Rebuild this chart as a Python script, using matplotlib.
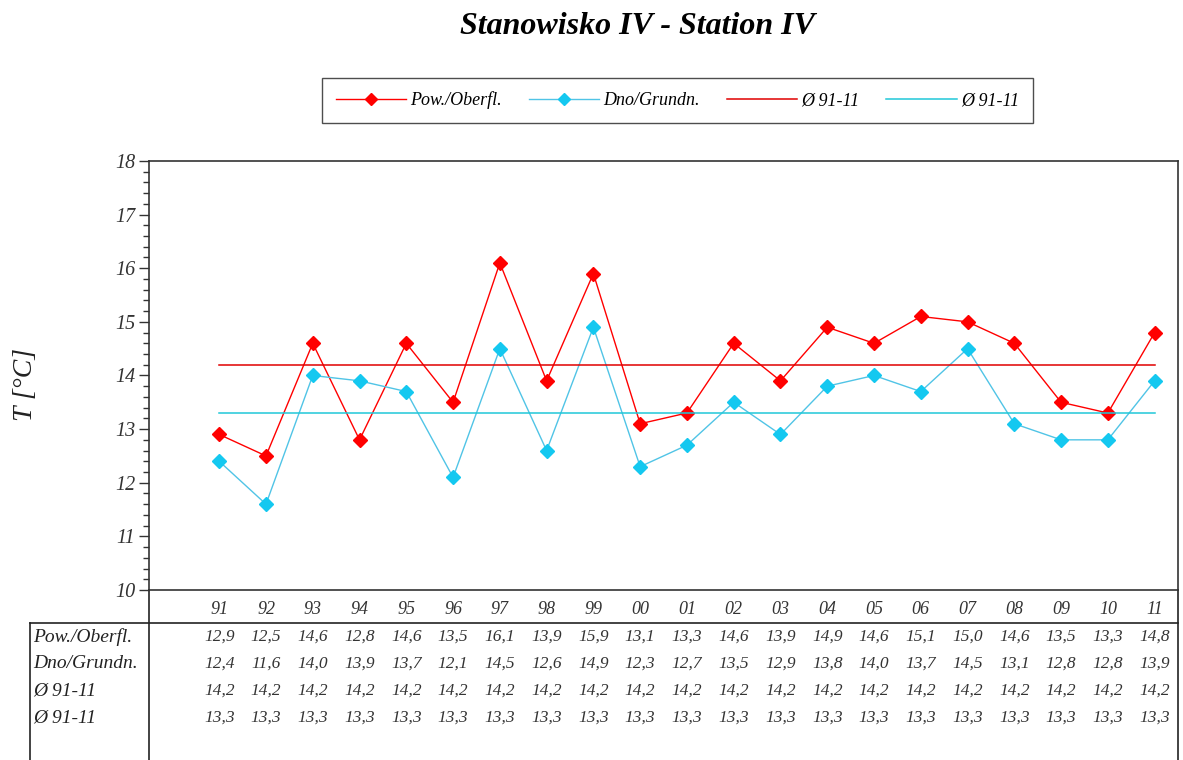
import numpy as np
import matplotlib
matplotlib.use('Agg')
import matplotlib.pyplot as plt
from matplotlib.ticker import MultipleLocator
from matplotlib.lines import Line2D

years = ['91', '92', '93', '94', '95', '96', '97', '98', '99', '00', '01',
         '02', '03', '04', '05', '06', '07', '08', '09', '10', '11']
surface = [12.9, 12.5, 14.6, 12.8, 14.6, 13.5, 16.1, 13.9, 15.9, 13.1, 13.3,
           14.6, 13.9, 14.9, 14.6, 15.1, 15.0, 14.6, 13.5, 13.3, 14.8]
bottom = [12.4, 11.6, 14.0, 13.9, 13.7, 12.1, 14.5, 12.6, 14.9, 12.3, 12.7,
          13.5, 12.9, 13.8, 14.0, 13.7, 14.5, 13.1, 12.8, 12.8, 13.9]
mean_surface = [14.2] * 21
mean_bottom = [13.3] * 21
row_names = ['Pow./Oberfl.', 'Dno/Grundn.', 'Ø 91-11', 'Ø 91-11']

plt.rcParams['font.family'] = ['Liberation Serif', 'DejaVu Serif']
plt.rcParams['font.style'] = 'italic'

RED = '#FF0000'
CYAN = '#14C8F0'

fig = plt.figure(figsize=(11.83, 7.6), dpi=100)
ax = fig.add_axes([0.126, 0.2237, 0.8698, 0.5645])

x = np.arange(len(years))
ax.plot(x, surface, color=RED, lw=1, marker='D', ms=7, mec=RED, mfc=RED)
ax.plot(x, bottom, color='#50C4E6', lw=1, marker='D', ms=7, mec=CYAN, mfc=CYAN)
ax.plot(x, mean_surface, color='#E00000', lw=1.1)
ax.plot(x, mean_bottom, color='#20C8D8', lw=1.1)

ax.set_xlim(-1.5, 20.5)
ax.set_ylim(10, 18)
ax.yaxis.set_major_locator(MultipleLocator(1))
ax.yaxis.set_minor_locator(MultipleLocator(0.2))
ax.tick_params(axis='y', which='major', length=7, width=1, labelsize=14.5,
               pad=3, colors='#333333', labelcolor='#333333')
ax.tick_params(axis='y', which='minor', length=4, width=1, colors='#333333')
ax.set_xticks(x)
ax.set_xticklabels(years, fontsize=13, color='#333333')
ax.tick_params(axis='x', length=0, pad=8)
for s in ax.spines.values():
    s.set_color('#333333')
    s.set_linewidth(1.2)

ax.set_ylabel('T [°C]', fontsize=20, color='#222222')
ax.yaxis.set_label_coords(-0.108, 0.48)

# data table below the plot
tr = ax.get_xaxis_transform()
kw = dict(transform=ax.transAxes, clip_on=False, color='#222222', lw=1.2)
ax.plot([0, 0], [0, -0.4], **kw)
ax.plot([1, 1], [0, -0.4], **kw)
ax.plot([-0.1156, 1], [-0.0767, -0.0767], **kw)
ax.plot([-0.1156, -0.1156], [-0.0767, -0.4], **kw)

rows = [surface, bottom, mean_surface, mean_bottom]
row_y = [-0.109, -0.172, -0.235, -0.298]
for name, vals, yy in zip(row_names, rows, row_y):
    ax.text(-0.1127, yy, name, transform=ax.transAxes, fontsize=14,
            ha='left', va='center', color='#222222')
    for i, v in enumerate(vals):
        ax.text(i, yy, f'{v:.1f}'.replace('.', ','), transform=tr,
                fontsize=12.5, ha='center', va='center', color='#333333')

fig.text(0.539, 0.965, 'Stanowisko IV - Station IV', fontsize=23,
         fontweight='bold', ha='center', va='center')

handles = [
    Line2D([], [], color=RED, lw=1, marker='D', ms=6, mfc=RED, mec=RED),
    Line2D([], [], color='#50C4E6', lw=1, marker='D', ms=6, mfc=CYAN, mec=CYAN),
    Line2D([], [], color='#E00000', lw=1.1),
    Line2D([], [], color='#20C8D8', lw=1.1),
]
leg = fig.legend(handles, ['Pow./Oberfl.', 'Dno/Grundn.', 'Ø 91-11', 'Ø 91-11'],
                 loc='center', bbox_to_anchor=(0.2722, 0.8382, 0.601, 0.0592),
                 mode='expand', borderaxespad=0, ncol=4,
                 fontsize=13, handlelength=3.9, handletextpad=0.25,
                 columnspacing=1.2, fancybox=False, borderpad=0.75)
leg.get_frame().set_edgecolor('#222222')
leg.get_frame().set_linewidth(1)

fig.savefig('out.png', dpi=100)
